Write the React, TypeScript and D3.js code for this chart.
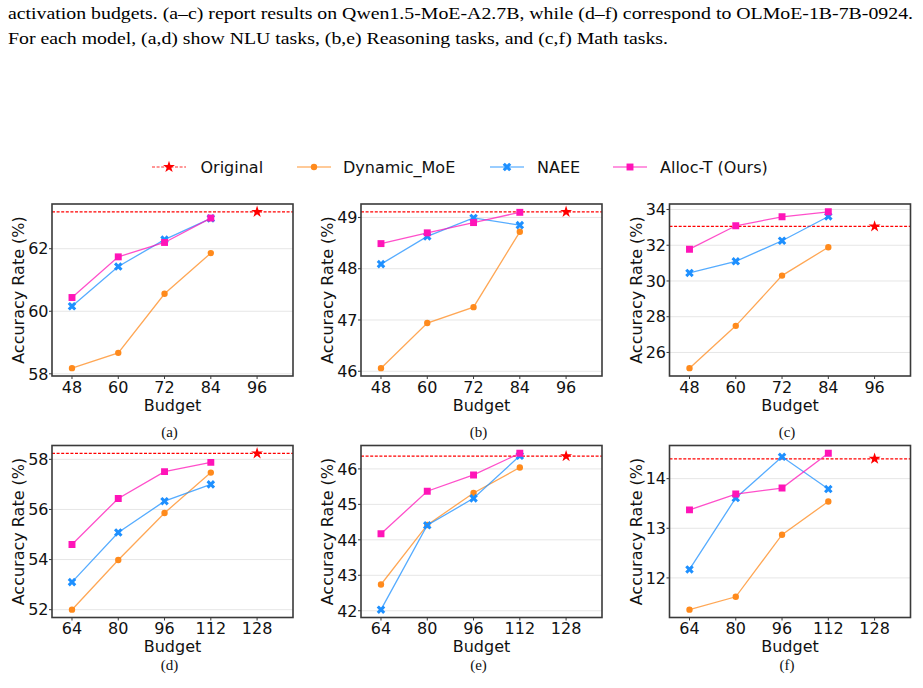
import React from "react";
import * as d3 from "d3";

// Budgets on the x axis (last one is the full, unpruned model)
const budgetsQwen = [48, 60, 72, 84];
const fullBudgetQwen = 96;
const budgetsOlmoe = [64, 80, 96, 112];
const fullBudgetOlmoe = 128;

// Accuracy per panel: Dynamic_MoE, NAEE, Alloc-T, plus the original model
const dynA = [58.18, 58.67, 60.56, 61.86];
const naeeA = [60.16, 61.43, 62.29, 62.97];
const allocA = [60.44, 61.74, 62.2, 62.98];
const origA = 63.18;

const dynB = [46.06, 46.94, 47.25, 48.72];
const naeeB = [48.09, 48.63, 48.99, 48.85];
const allocB = [48.49, 48.7, 48.9, 49.1];
const origB = 49.11;

const dynC = [25.12, 27.49, 30.3, 31.89];
const naeeC = [30.45, 31.1, 32.25, 33.61];
const allocC = [31.78, 33.09, 33.59, 33.87];
const origC = 33.05;

const dynD = [52.0, 53.98, 55.86, 57.47];
const naeeD = [53.1, 55.08, 56.33, 57.0];
const allocD = [54.6, 56.44, 57.51, 57.88];
const origD = 58.24;

const dynE = [42.74, 44.42, 45.32, 46.04];
const naeeE = [42.03, 44.41, 45.17, 46.37];
const allocE = [44.17, 45.37, 45.83, 46.44];
const origE = 46.36;

const dynF = [11.36, 11.62, 12.87, 13.54];
const naeeF = [12.17, 13.61, 14.44, 13.79];
const allocF = [13.37, 13.69, 13.81, 14.51];
const origF = 14.4;

const yTicksA = [58, 60, 62];
const yTicksB = [46, 47, 48, 49];
const yTicksC = [26, 28, 30, 32, 34];
const yTicksD = [52, 54, 56, 58];
const yTicksE = [42, 43, 44, 45, 46];
const yTicksF = [12, 13, 14];

const captions = ["(a)", "(b)", "(c)", "(d)", "(e)", "(f)"];
const seriesNames = ["Original", "Dynamic_MoE", "NAEE", "Alloc-T (Ours)"];

const RED = "#ff0000";
const ORANGE = "#ff8a1c";
const BLUE = "#1e90ff";
const PINK = "#ff14b8";

const SANS = "'DejaVu Sans', 'Noto Sans', sans-serif";
const SERIF = "'Liberation Serif', 'Times New Roman', serif";

const panels = [
  { budgets: budgetsQwen, full: fullBudgetQwen, dyn: dynA, naee: naeeA, alloc: allocA, orig: origA, ticks: yTicksA },
  { budgets: budgetsQwen, full: fullBudgetQwen, dyn: dynB, naee: naeeB, alloc: allocB, orig: origB, ticks: yTicksB },
  { budgets: budgetsQwen, full: fullBudgetQwen, dyn: dynC, naee: naeeC, alloc: allocC, orig: origC, ticks: yTicksC },
  { budgets: budgetsOlmoe, full: fullBudgetOlmoe, dyn: dynD, naee: naeeD, alloc: allocD, orig: origD, ticks: yTicksD },
  { budgets: budgetsOlmoe, full: fullBudgetOlmoe, dyn: dynE, naee: naeeE, alloc: allocE, orig: origE, ticks: yTicksE },
  { budgets: budgetsOlmoe, full: fullBudgetOlmoe, dyn: dynF, naee: naeeF, alloc: allocF, orig: origF, ticks: yTicksF },
];

const colLeft = [52, 361, 669.5];
const rowTop = [204, 445.5];
const PW = 241;
const PH = 172;

const circlePath = d3.symbol(d3.symbolCircle, 32)()!;
const squarePath = d3.symbol(d3.symbolSquare, 48)()!;
const crossPath = d3.symbol(d3.symbolCross, 46)()!;
const starPath = d3.symbol(d3.symbolStar, 44)()!;

function Marker({ kind, x, y, color }: { kind: string; x: number; y: number; color: string }) {
  if (kind === "x")
    return <path d={crossPath} transform={`translate(${x},${y}) rotate(45)`} fill={color} />;
  const d = kind === "o" ? circlePath : kind === "s" ? squarePath : starPath;
  return <path d={d} transform={`translate(${x},${y})`} fill={color} />;
}

function Panel({ p, i }: { p: (typeof panels)[number]; i: number }) {
  const left = colLeft[i % 3];
  const top = rowTop[Math.floor(i / 3)];
  const xs = [...p.budgets, p.full];
  const x = d3
    .scaleLinear()
    .domain([xs[0] * 0.892, p.full * 1.097])
    .range([left, left + PW]);
  const all = [...p.dyn, ...p.naee, ...p.alloc, p.orig];
  const [lo, hi] = d3.extent(all) as [number, number];
  const pad = (hi - lo) * 0.05;
  const y = d3
    .scaleLinear()
    .domain([lo - pad, hi + pad])
    .range([top + PH, top]);

  const line = d3
    .line<number>()
    .x((_, k) => x(p.budgets[k]))
    .y((v) => y(v));

  const series = [
    { vals: p.dyn, color: ORANGE, kind: "o" },
    { vals: p.naee, color: BLUE, kind: "x" },
    { vals: p.alloc, color: PINK, kind: "s" },
  ];

  return (
    <g style={{ fontFamily: SANS }}>
      <defs>
        <clipPath id={`clip${i}`}>
          <rect x={left} y={top} width={PW} height={PH} />
        </clipPath>
      </defs>
      {p.ticks.map((t) => (
        <line key={t} x1={left} x2={left + PW} y1={y(t)} y2={y(t)} stroke="#e6e6e6" strokeWidth={1} />
      ))}
      <g clipPath={`url(#clip${i})`}>
        <line
          x1={left}
          x2={left + PW}
          y1={y(p.orig)}
          y2={y(p.orig)}
          stroke={RED}
          strokeWidth={1.2}
          strokeDasharray="3,1.6"
        />
        <Marker kind="*" x={x(p.full)} y={y(p.orig)} color={RED} />
        {series.map((s, k) => (
          <g key={k}>
            <path d={line(s.vals)!} fill="none" stroke={s.color} strokeWidth={1.3} opacity={0.75} />
            {s.vals.map((v, j) => (
              <Marker key={j} kind={s.kind} x={x(p.budgets[j])} y={y(v)} color={s.color} />
            ))}
          </g>
        ))}
      </g>
      <rect x={left} y={top} width={PW} height={PH} fill="none" stroke="#3a3a3a" strokeWidth={1.6} />
      {p.ticks.map((t) => (
        <g key={t}>
          <line x1={left - 3} x2={left} y1={y(t)} y2={y(t)} stroke="#3a3a3a" strokeWidth={1} />
          <text x={left - 3.5} y={y(t)} dy="0.36em" textAnchor="end" fontSize={16} fill="#111">
            {t}
          </text>
        </g>
      ))}
      {xs.map((t) => (
        <g key={t}>
          <line x1={x(t)} x2={x(t)} y1={top + PH} y2={top + PH + 3} stroke="#3a3a3a" strokeWidth={1} />
          <text x={x(t)} y={top + PH + 16.5} textAnchor="middle" fontSize={16} fill="#111">
            {t}
          </text>
        </g>
      ))}
      <text x={left + PW / 2} y={top + PH + 34.5} textAnchor="middle" fontSize={16} fill="#111">
        Budget
      </text>
      <text
        transform={`translate(${left - 33.5},${top + PH / 2}) rotate(-90)`}
        dy="0.36em"
        textAnchor="middle"
        fontSize={16}
        fill="#111"
      >
        Accuracy Rate (%)
      </text>
      <text
        x={left + PW / 2 - 3}
        y={top + PH + (i < 3 ? 61 : 52)}
        textAnchor="middle"
        style={{ fontFamily: SERIF }}
        fontSize={15}
        fill="#111"
      >
        {captions[i]}
      </text>
    </g>
  );
}

function Legend() {
  const items = [
    { x1: 152, text: 200.5, color: RED, kind: "*", dashed: true },
    { x1: 297, text: 343, color: ORANGE, kind: "o", dashed: false },
    { x1: 490, text: 537, color: BLUE, kind: "x", dashed: false },
    { x1: 613, text: 660, color: PINK, kind: "s", dashed: false },
  ];
  const ly = 167;
  return (
    <g style={{ fontFamily: SANS }}>
      {items.map((it, k) => (
        <g key={k}>
          <line
            x1={it.x1}
            x2={it.x1 + 34}
            y1={ly}
            y2={ly}
            stroke={it.color}
            strokeWidth={1.6}
            opacity={it.dashed ? 0.55 : 0.6}
            strokeDasharray={it.dashed ? "3,1.6" : undefined}
          />
          <Marker kind={it.kind} x={it.x1 + 17} y={ly} color={it.color} />
          <text x={it.text} y={ly} dy="0.36em" fontSize={16} fill="#111">
            {seriesNames[k]}
          </text>
        </g>
      ))}
    </g>
  );
}

export default function App() {
  return (
    <div style={{ position: "absolute", left: 0, top: 0, background: "#fff" }}>
      <svg width={923} height={688} viewBox="0 0 923 688" style={{ display: "block" }}>
        <rect width={923} height={688} fill="#fff" />
        <g style={{ fontFamily: SERIF }}>
          <text x={8} y={19} fontSize={17} fill="#000" textLength={905} lengthAdjust="spacingAndGlyphs">
            activation budgets. (a–c) report results on Qwen1.5-MoE-A2.7B, while (d–f) correspond to OLMoE-1B-7B-0924.
          </text>
          <text x={8} y={44} fontSize={17} fill="#000" textLength={660} lengthAdjust="spacingAndGlyphs">
            For each model, (a,d) show NLU tasks, (b,e) Reasoning tasks, and (c,f) Math tasks.
          </text>
        </g>
        <Legend />
        {panels.map((p, i) => (
          <Panel key={i} p={p} i={i} />
        ))}
      </svg>
    </div>
  );
}
